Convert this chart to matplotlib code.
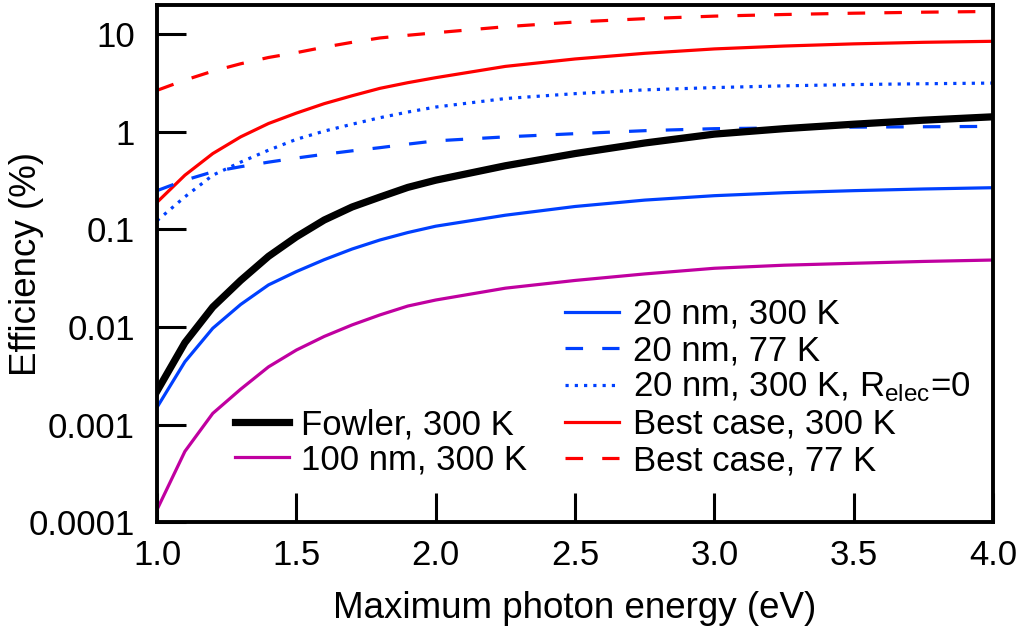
import matplotlib
matplotlib.use("Agg")
import matplotlib.pyplot as plt
from matplotlib.ticker import FixedLocator, NullLocator

plt.rcParams["font.family"] = ["Liberation Sans", "DejaVu Sans"]
plt.rcParams["mathtext.default"] = "regular"

# photon energy (eV)
energy = [1.0, 1.1, 1.2, 1.3, 1.4, 1.5, 1.6, 1.7, 1.8, 1.9, 2.0,
          2.25, 2.5, 2.75, 3.0, 3.25, 3.5, 3.75, 4.0]

# efficiency (%)
fowler_300 = [0.0022, 0.0069, 0.016, 0.030, 0.053, 0.084, 0.125, 0.17, 0.215, 0.27, 0.32,
              0.45, 0.60, 0.77, 0.95, 1.08, 1.20, 1.32, 1.43]
nm100_300 = [0.000134, 0.00053, 0.0013, 0.0023, 0.0039, 0.0058, 0.0080, 0.0105, 0.0133, 0.0164, 0.0189,
             0.025, 0.030, 0.035, 0.040, 0.043, 0.045, 0.047, 0.0486]
nm20_300 = [0.0015, 0.0044, 0.0097, 0.017, 0.027, 0.037, 0.049, 0.063, 0.078, 0.093, 0.108,
            0.14, 0.172, 0.20, 0.222, 0.238, 0.25, 0.26, 0.268]
nm20_77 = [0.25, 0.32, 0.39, 0.44, 0.49, 0.54, 0.59, 0.64, 0.69, 0.75, 0.81,
           0.89, 0.96, 1.03, 1.08, 1.10, 1.12, 1.13, 1.14]
nm20_300_r0 = [0.123, 0.216, 0.36, 0.49, 0.65, 0.84, 1.02, 1.2, 1.4, 1.6, 1.8,
               2.2, 2.47, 2.7, 2.85, 2.97, 3.06, 3.12, 3.17]
best_300 = [0.19, 0.36, 0.60, 0.89, 1.22, 1.56, 1.95, 2.35, 2.8, 3.2, 3.6,
            4.7, 5.6, 6.4, 7.1, 7.6, 8.0, 8.3, 8.5]
best_77 = [2.67, 3.4, 4.2, 5.0, 5.8, 6.5, 7.4, 8.3, 9.2, 9.8, 10.4,
           12.0, 13.4, 14.5, 15.4, 16.0, 16.5, 16.9, 17.2]

x_ticks = [1.0, 1.5, 2.0, 2.5, 3.0, 3.5, 4.0]
y_ticks = [0.0001, 0.001, 0.01, 0.1, 1, 10]
y_ticklabels = ["0.0001", "0.001", "0.01", "0.1", "1", "10"]

BLUE = "#0040ff"
RED = "#ff0000"
MAGENTA = "#c000a0"

fig = plt.figure(figsize=(10.23, 6.32), dpi=100)
ax = fig.add_axes([0.1535, 0.174, 0.8172, 0.818])

lw = 2.3
dash = (5.5, 6.0)
dot = (1.0, 1.9)

l_b77, = ax.plot(energy, best_77, color=RED, lw=lw, dashes=dash, dash_capstyle="butt",
                 label="Best case, 77 K")
l_b300, = ax.plot(energy, best_300, color=RED, lw=lw, label="Best case, 300 K")
l_r0, = ax.plot(energy, nm20_300_r0, color=BLUE, lw=lw, dashes=dot, dash_capstyle="butt",
                label="20 nm, 300 K, R$_{elec}$=0")
l_77, = ax.plot(energy, nm20_77, color=BLUE, lw=lw, dashes=dash, dash_capstyle="butt",
                label="20 nm, 77 K")
l_20, = ax.plot(energy, nm20_300, color=BLUE, lw=lw, label="20 nm, 300 K")
l_100, = ax.plot(energy, nm100_300, color=MAGENTA, lw=lw, label="100 nm, 300 K")
l_f, = ax.plot(energy, fowler_300, color="black", lw=5.2, label="Fowler, 300 K")

ax.set_yscale("log")
ax.set_xlim(1.0, 4.0)
ax.set_ylim(0.0001, 20)
ax.xaxis.set_major_locator(FixedLocator(x_ticks))
ax.set_xticklabels([f"{t:.1f}" for t in x_ticks])
ax.yaxis.set_major_locator(FixedLocator(y_ticks))
ax.yaxis.set_minor_locator(NullLocator())
ax.set_yticklabels(y_ticklabels)

ax.tick_params(axis="both", which="major", direction="in", length=21, width=2.2,
               labelsize=25)
ax.tick_params(axis="x", pad=12)
ax.tick_params(axis="y", pad=16)
for sp in ax.spines.values():
    sp.set_linewidth(2.8)

ax.set_xlabel("Maximum photon energy (eV)", fontsize=26.5, labelpad=14)
ax.set_ylabel("Efficiency (%)", fontsize=26.5)
ax.yaxis.set_label_coords(-0.135, 0.5)

leg1 = ax.legend(handles=[l_f, l_100], loc="lower left", bbox_to_anchor=(0.085, 0.075),
                 frameon=False, fontsize=25, handlelength=1.55, handletextpad=0.35,
                 labelspacing=0.05, borderpad=0.2, borderaxespad=0)
ax.add_artist(leg1)
ax.legend(handles=[l_20, l_77, l_r0, l_b300, l_b77], loc="lower left",
          bbox_to_anchor=(0.48, 0.073), frameon=False, fontsize=25, handlelength=1.55,
          handletextpad=0.4, labelspacing=0.1, borderpad=0.2, borderaxespad=0)

fig.savefig("out.png", dpi=100)
